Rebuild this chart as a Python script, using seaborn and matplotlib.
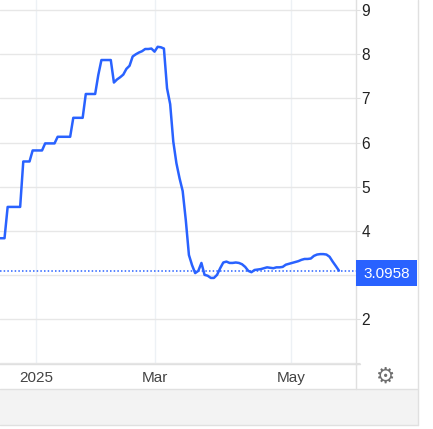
import matplotlib
matplotlib.use("Agg")
import matplotlib.pyplot as plt
from matplotlib.patches import Rectangle
from matplotlib.lines import Line2D
import pandas as pd
import seaborn as sns

sessions = [-1, 1, 2, 6, 7, 9, 10, 13, 14, 17, 18, 22, 23, 26, 27, 30, 31, 32, 35, 36,
            37, 38, 39, 40, 41, 42, 43, 44, 45, 46, 47, 48, 49, 50, 51, 52, 53, 54, 55, 56,
            57, 58, 59, 60, 61, 62, 63, 64, 65, 66, 67, 68, 69, 70, 71, 72, 73, 74, 75, 76,
            77, 78, 79, 80, 81, 82, 83, 84, 85, 86, 87, 88, 89, 90, 91, 92, 93, 94, 95, 96,
            97, 98, 99, 100, 101, 102, 103, 104, 105, 106, 107, 108]
yields = [3.83, 3.83, 4.54, 4.54, 5.57, 5.57, 5.82, 5.82, 5.98, 5.98, 6.13, 6.13, 6.56, 6.56, 7.10, 7.10, 7.53, 7.87, 7.87, 7.36,
          7.43, 7.48, 7.54, 7.67, 7.74, 7.95, 8.00, 8.04, 8.07, 8.12, 8.12, 8.13, 8.06, 8.17, 8.16, 8.13, 7.23, 6.87, 6.02, 5.53,
          5.19, 4.90, 4.24, 3.45, 3.22, 3.04, 3.09, 3.27, 3.00, 2.98, 2.93, 2.93, 3.00, 3.15, 3.28, 3.30, 3.27, 3.27, 3.28, 3.27,
          3.24, 3.18, 3.09, 3.06, 3.11, 3.12, 3.13, 3.15, 3.17, 3.16, 3.15, 3.17, 3.17, 3.18, 3.23, 3.25, 3.27, 3.29, 3.31, 3.34,
          3.36, 3.36, 3.37, 3.43, 3.46, 3.47, 3.47, 3.46, 3.41, 3.30, 3.20, 3.0958]
last_value = 3.0958
x_tick_pos = [11.23, 48.99, 92.67]
x_tick_labels = ["2025", "Mar", "May"]
y_ticks = [1, 2, 3, 4, 5, 6, 7, 8, 9]
y_tick_labels = ["", "2", "", "4", "5", "6", "7", "8", "9"]

BLUE = "#2962ff"
GRID_H = "#e7e7e7"
GRID_V = "#edf1f5"
EDGE = "#e0e0e0"

sns.set_theme(style="white")
plt.rcParams["font.family"] = ["Liberation Sans", "DejaVu Sans"]

W, H = 433, 429
fig = plt.figure(figsize=(W / 100, H / 100), dpi=100, facecolor="white")
ax = fig.add_axes([0, 1 - 363.5 / H, 355.5 / W, 363.5 / H])
ax.set_facecolor("white")

df = pd.DataFrame({"session": sessions, "yield": yields})
sns.lineplot(data=df, x="session", y="yield", ax=ax, color=BLUE, linewidth=1.8,
             errorbar=None, estimator=None, zorder=3, solid_joinstyle="round")
ax.axhline(last_value, color=BLUE, linewidth=1.1, linestyle=(0, (1, 1.4)), zorder=2)

ax.set_xlim(-0.448, 113.3)
ax.set_ylim(0.99, 9.231)
ax.set_xlabel("")
ax.set_ylabel("")

for s in ("top", "left"):
    ax.spines[s].set_visible(False)
for s in ("bottom", "right"):
    ax.spines[s].set_color(EDGE)
    ax.spines[s].set_linewidth(1.0)

ax.yaxis.tick_right()
ax.set_yticks(y_ticks)
ax.set_yticklabels(y_tick_labels)
ax.tick_params(axis="y", length=3, width=0.8, color=EDGE, pad=1.5, labelsize=11.2,
               labelcolor="#222222", right=True, left=False)
ax.set_xticks(x_tick_pos)
ax.set_xticklabels(x_tick_labels)
ax.tick_params(axis="x", length=0, pad=5.2, labelsize=11, labelcolor="#444444")

ax.set_axisbelow(True)
ax.xaxis.grid(True, color=GRID_V, linewidth=1.0)
ax.yaxis.grid(True, color=GRID_H, linewidth=1.0)

def px_x(v):
    return v / W

def px_y(v):
    return 1 - v / H

# bottom panel and frame
fig.add_artist(Rectangle((0, px_y(424.5)), px_x(417.5), (424.5 - 389) / H,
                         transform=fig.transFigure, facecolor="#f3f3f3",
                         edgecolor="none", zorder=1))
for xs, ys in [((0, 417.5), (389, 389)), ((0, 417.5), (424.5, 424.5)),
               ((417.5, 417.5), (0, 424.5)), ((355.5, 355.5), (363, 389)),
               ((355.5, 360), (363.5, 363.5))]:
    fig.add_artist(Line2D([px_x(a) for a in xs], [px_y(b) for b in ys],
                          transform=fig.transFigure, color=EDGE, linewidth=1.0, zorder=2))

# last value label
fig.add_artist(Rectangle((px_x(356), px_y(285.7)), 61 / W, 25.7 / H,
                         transform=fig.transFigure, facecolor=BLUE,
                         edgecolor="none", zorder=4))
fig.text(px_x(386.5), px_y(273.5), f"{last_value:.4f}", color="white", fontsize=11,
         ha="center", va="center", zorder=5)

# settings glyph
fig.text(px_x(386), px_y(377), "\u2699", color="#6f6f6f", fontsize=15.5,
         family="DejaVu Sans", ha="center", va="center", zorder=5)

fig.savefig("out.png", dpi=100, facecolor="white")
